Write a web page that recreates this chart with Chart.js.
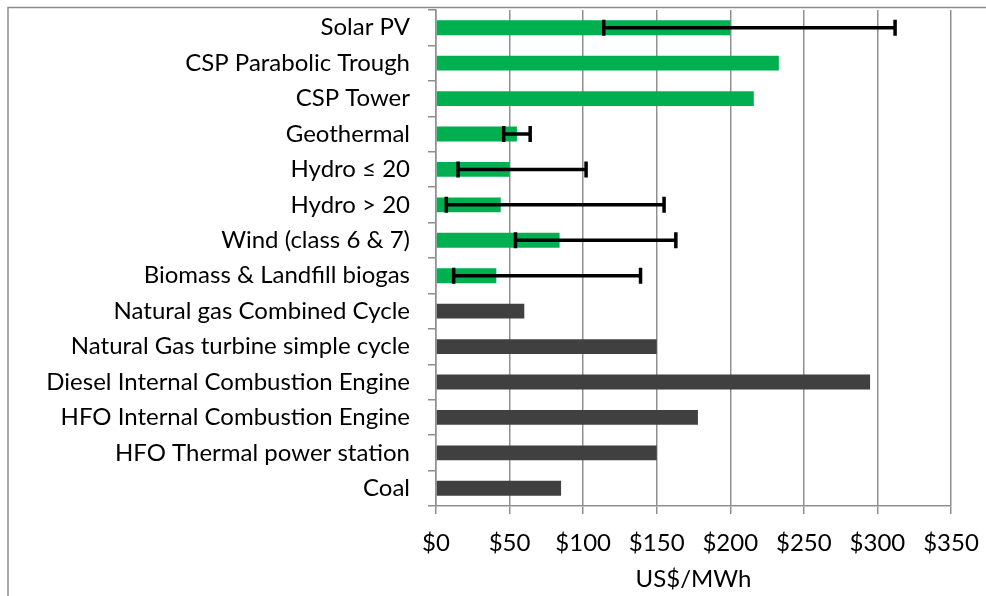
<!DOCTYPE html>
<html>
<head>
<meta charset="utf-8">
<script src="https://cdn.jsdelivr.net/npm/chart.js@4.4.1/dist/chart.umd.min.js"></script>
<style>
  html, body { margin: 0; padding: 0; background: #ffffff; }
  #wrap { width: 986px; height: 596px; position: relative; }
</style>
</head>
<body>
<div id="wrap"><canvas id="c" width="986" height="596"></canvas></div>
<script>
// ---- data ----
const categories = [
  'Solar PV', 'CSP Parabolic Trough', 'CSP Tower', 'Geothermal',
  'Hydro ≤ 20', 'Hydro > 20', 'Wind (class 6 & 7)', 'Biomass & Landfill biogas',
  'Natural gas Combined Cycle', 'Natural Gas turbine simple cycle',
  'Diesel Internal Combustion Engine', 'HFO Internal Combustion Engine',
  'HFO Thermal power station', 'Coal'
];
const technologyType = [
  'renewable', 'renewable', 'renewable', 'renewable',
  'renewable', 'renewable', 'renewable', 'renewable',
  'fossil', 'fossil', 'fossil', 'fossil', 'fossil', 'fossil'
];
const costValues = [200, 233, 216, 55, 50, 44, 84, 41, 60, 150, 295, 178, 150, 85];
const rangeLow  = [114, null, null, 46, 15, 7, 54, 12, null, null, null, null, null, null];
const rangeHigh = [312, null, null, 64, 102, 155, 163, 139, null, null, null, null, null, null];
const xTickValues = [0, 50, 100, 150, 200, 250, 300, 350];
const xAxisTitle = 'US$/MWh';

// ---- styles ----
const typeColors = { renewable: '#00B050', fossil: '#404040' };
const FONT = 'Lato, "Open Sans", sans-serif';
const FSIZE = 24;
const GRID = '#8f8f8f';

const errorBars = {
  id: 'errorBars',
  afterDatasetsDraw(chart) {
    const { ctx, scales: { x, y } } = chart;
    ctx.save();
    ctx.strokeStyle = '#000000';
    ctx.lineWidth = 3.5;
    ctx.lineCap = 'butt';
    for (let i = 0; i < categories.length; i++) {
      if (rangeLow[i] == null || rangeHigh[i] == null) continue;
      const yc = y.getPixelForValue(i);
      const x0 = x.getPixelForValue(rangeLow[i]);
      const x1 = x.getPixelForValue(rangeHigh[i]);
      ctx.beginPath();
      ctx.moveTo(x0, yc); ctx.lineTo(x1, yc);
      ctx.moveTo(x0, yc - 8); ctx.lineTo(x0, yc + 8);
      ctx.moveTo(x1, yc - 8); ctx.lineTo(x1, yc + 8);
      ctx.stroke();
    }
    ctx.restore();
  }
};

const frame = {
  id: 'frame',
  beforeDraw(chart) {
    const ctx = chart.ctx;
    ctx.save();
    ctx.strokeStyle = '#8c8c8c';
    ctx.lineWidth = 1.5;
    ctx.beginPath();
    ctx.moveTo(8, 600); ctx.lineTo(8, 7.5); ctx.lineTo(990, 7.5);
    ctx.stroke();
    ctx.restore();
  }
};

new Chart(document.getElementById('c'), {
  type: 'bar',
  data: {
    labels: categories,
    datasets: [{
      data: costValues,
      backgroundColor: technologyType.map(t => typeColors[t]),
      borderWidth: 0,
      categoryPercentage: 1,
      barPercentage: 0.42
    }]
  },
  options: {
    indexAxis: 'y',
    responsive: false,
    animation: false,
    devicePixelRatio: 1,
    layout: { padding: { top: 10, right: 35, left: 0, bottom: 0 } },
    plugins: { legend: { display: false }, tooltip: { enabled: false } },
    scales: {
      x: {
        min: 0, max: 350,
        afterBuildTicks: s => { s.ticks = xTickValues.map(v => ({ value: v })); },
        afterFit: s => { s.height = 90; s.paddingLeft = 0; s.paddingRight = 0; },
        grid: { color: GRID, lineWidth: 1.5, drawTicks: true, tickLength: 8, tickColor: GRID },
        border: { color: GRID, width: 1.5 },
        ticks: {
          color: '#000', padding: 15, maxRotation: 0,
          font: { family: FONT, size: FSIZE },
          callback: v => '$' + v
        },
        title: {
          display: true, text: xAxisTitle, color: '#000',
          font: { family: FONT, size: FSIZE }, padding: { top: 0, bottom: 2 }
        }
      },
      y: {
        afterFit: s => { s.width = 436; s.paddingTop = 0; s.paddingBottom = 0; },
        grid: { offset: true, drawOnChartArea: false, drawTicks: true, tickLength: 8, color: GRID, lineWidth: 1.5 },
        border: { color: GRID, width: 1.5 },
        ticks: { color: '#000', padding: 18, font: { family: FONT, size: FSIZE } }
      }
    }
  },
  plugins: [frame, errorBars]
});
</script>
</body>
</html>
